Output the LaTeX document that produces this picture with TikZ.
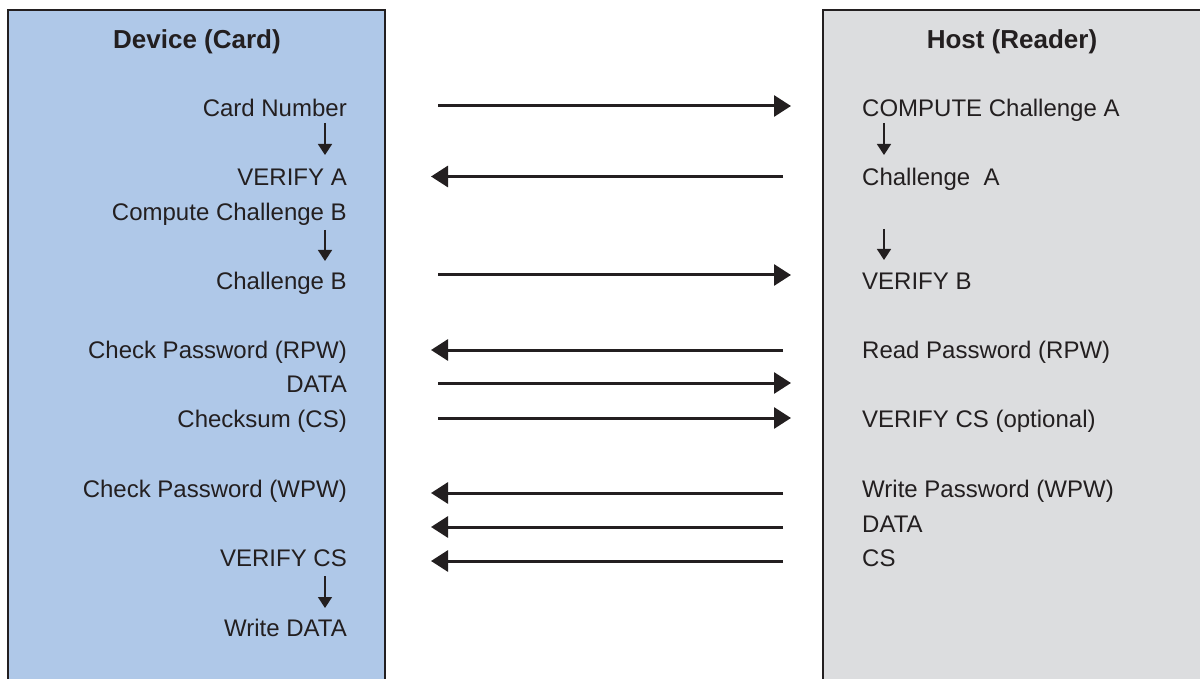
\documentclass[tikz,border=0pt]{standalone}
\usepackage{fontspec}
\setmainfont{Liberation Sans}
\usetikzlibrary{arrows.meta}
\definecolor{cardblue}{RGB}{175,200,232}
\definecolor{hostgray}{RGB}{220,221,223}
\definecolor{ink}{RGB}{35,31,32}
\begin{document}
\begin{tikzpicture}[x=1pt,y=-1pt,
  lbl/.style={inner sep=0pt, font=\fontsize{24}{28}\selectfont, text=ink},
  ltxt/.style={lbl, anchor=base east},
  rtxt/.style={lbl, anchor=base west},
  ttl/.style={inner sep=0pt, anchor=base, font=\fontsize{26}{30}\selectfont\bfseries, text=ink},
  msg/.style={draw=ink, line width=3pt, -{Triangle[length=17pt,width=21pt]}},
  flow/.style={draw=ink, line width=1.5pt, -{Triangle[length=11pt,width=14pt]}},
  panel/.style={draw=ink, line width=2.5pt}]
\useasboundingbox (0,0) rectangle (1200,679);
\clip (0,0) rectangle (1200,679);
% panels
\path[fill=cardblue] (8,10) rectangle (385,700);
\draw[panel] (8,700) -- (8,10) -- (385,10) -- (385,700);
\path[fill=hostgray] (823,10) rectangle (1215,700);
\draw[panel] (823,700) -- (823,10) -- (1215,10);
% titles
\node[ttl] (devt) at (197,48.5) {Device (Card)};
\node[ttl] (hostt) at (1012,48.5) {Host (Reader)};
% device column
\node[ltxt] (cn)  at (347,117)   {Card Number};
\node[ltxt] (va)  at (347,186)   {VERIFY A};
\node[ltxt] (ccb) at (347,221)   {Compute Challenge B};
\node[ltxt] (cb)  at (347,290)   {Challenge B};
\node[ltxt] (cpr) at (347,358.5) {Check Password (RPW)};
\node[ltxt] (dd)  at (347,392.5) {DATA};
\node[ltxt] (cs)  at (347,427.5) {Checksum (CS)};
\node[ltxt] (cpw) at (347,497.5) {Check Password (WPW)};
\node[ltxt] (vcs) at (347,566.5) {VERIFY CS};
\node[ltxt] (wd)  at (347,636)   {Write DATA};
% host column
\node[rtxt] (cca) at (862,117)   {COMPUTE Challenge A};
\node[rtxt] (ca)  at (862,185.5) {Challenge\ \ A};
\node[rtxt] (vb)  at (862,290)   {VERIFY B};
\node[rtxt] (rpw) at (862,358.5) {Read Password (RPW)};
\node[rtxt] (vco) at (862,427.5) {VERIFY CS (optional)};
\node[rtxt] (wpw) at (862,497.5) {Write Password (WPW)};
\node[rtxt] (hd)  at (862,532)   {DATA};
\node[rtxt] (hcs) at (862,566.5) {CS};
% message end points
\coordinate (m1a) at (438,106);   \coordinate (m1b) at (791,106);
\coordinate (m2a) at (783,176.5); \coordinate (m2b) at (431,176.5);
\coordinate (m3a) at (438,275);   \coordinate (m3b) at (791,275);
\coordinate (m4a) at (783,350);   \coordinate (m4b) at (431,350);
\coordinate (m5a) at (438,383);   \coordinate (m5b) at (791,383);
\coordinate (m6a) at (438,418);   \coordinate (m6b) at (791,418);
\coordinate (m7a) at (783,493);   \coordinate (m7b) at (431,493);
\coordinate (m8a) at (783,527);   \coordinate (m8b) at (431,527);
\coordinate (m9a) at (783,561);   \coordinate (m9b) at (431,561);
\foreach \i in {1,...,9} {\draw[msg] (m\i a) -- (m\i b);}
% internal flow end points
\coordinate (f1a) at (325,123); \coordinate (f1b) at (325,155);
\coordinate (f2a) at (325,230); \coordinate (f2b) at (325,261);
\coordinate (f3a) at (325,576); \coordinate (f3b) at (325,608);
\coordinate (f4a) at (884,123); \coordinate (f4b) at (884,155);
\coordinate (f5a) at (884,229); \coordinate (f5b) at (884,260);
\foreach \i in {1,...,5} {\draw[flow] (f\i a) -- (f\i b);}
\end{tikzpicture}
\end{document}
